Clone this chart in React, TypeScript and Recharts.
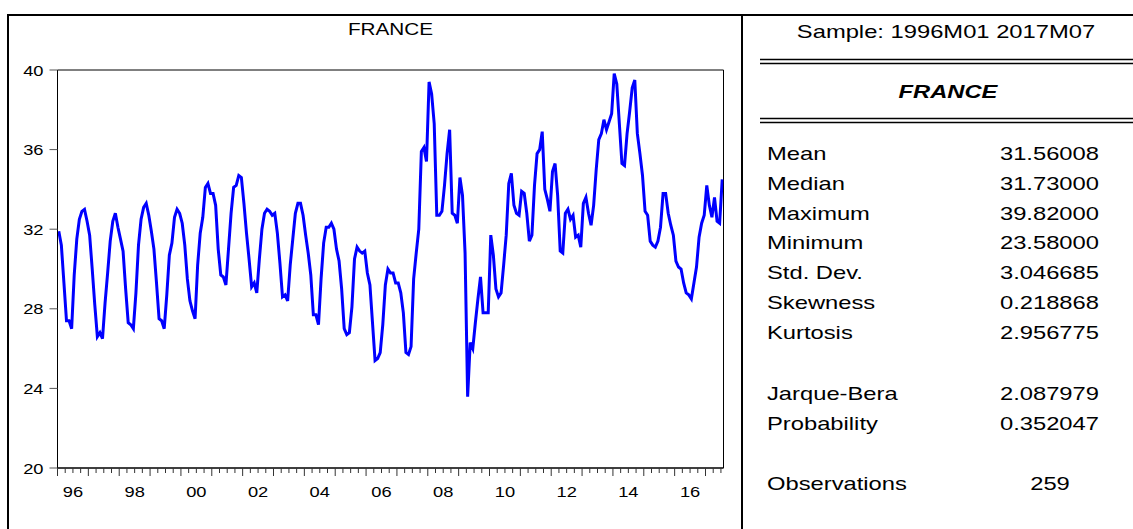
import React from 'react';
import { LineChart, Line, XAxis, YAxis, ReferenceArea } from 'recharts';

// monthly series, one array per year
const y1996 = [31.9, 31.2, 29.3, 27.4, 27.4, 27.0, 29.7, 31.5, 32.5, 32.9, 33.0, 32.4];
const y1997 = [31.7, 30.0, 28.2, 26.6, 26.8, 26.5, 28.3, 29.8, 31.4, 32.4, 32.8, 32.1];
const y1998 = [31.5, 30.9, 29.0, 27.3, 27.2, 27.0, 28.8, 31.2, 32.5, 33.1, 33.3, 32.7];
const y1999 = [31.9, 31.0, 29.3, 27.5, 27.4, 27.0, 28.7, 30.7, 31.3, 32.6, 33.0, 32.8];
const y2000 = [32.3, 31.2, 29.5, 28.4, 27.9, 27.5, 30.2, 31.8, 32.6, 34.1, 34.3, 33.8];
const y2001 = [33.8, 33.2, 31.0, 29.7, 29.6, 29.2, 31.0, 32.8, 34.1, 34.2, 34.7, 34.6];
const y2002 = [33.3, 31.8, 30.5, 29.1, 29.3, 28.8, 30.5, 32.0, 32.8, 33.0, 32.9, 32.7];
const y2003 = [32.8, 31.8, 30.3, 28.6, 28.7, 28.4, 30.2, 31.5, 32.8, 33.3, 33.3, 32.7];
const y2004 = [31.7, 30.8, 29.7, 27.7, 27.7, 27.2, 29.5, 31.3, 32.1, 32.1, 32.3, 32.0];
const y2005 = [31.0, 30.4, 29.0, 27.0, 26.7, 26.8, 28.1, 30.5, 31.1, 30.9, 30.8, 30.9];
const y2006 = [29.8, 29.2, 27.3, 25.4, 25.5, 25.8, 27.2, 29.2, 30.0, 29.8, 29.8, 29.3];
const y2007 = [29.3, 28.8, 27.8, 25.8, 25.7, 26.1, 29.5, 30.8, 32.0, 35.9, 36.1, 35.4];
const y2008 = [39.4, 38.8, 37.3, 32.7, 32.7, 32.9, 34.2, 35.8, 37.0, 32.8, 32.7, 32.3];
const y2009 = [34.6, 33.7, 30.8, 23.58, 26.3, 26.0, 27.3, 28.5, 29.6, 27.8, 27.8, 27.8];
const y2010 = [31.7, 30.7, 29.0, 28.6, 28.8, 30.2, 31.7, 34.3, 34.8, 33.2, 32.8, 32.7];
const y2011 = [33.9, 33.8, 32.8, 31.4, 31.7, 34.2, 35.8, 36.0, 36.9, 34.0, 33.5, 32.9];
const y2012 = [34.9, 35.3, 33.7, 30.9, 30.8, 32.8, 33.0, 32.5, 32.7, 31.6, 31.7, 31.1];
const y2013 = [33.3, 33.6, 32.8, 32.2, 33.2, 35.0, 36.5, 36.8, 37.5, 37.0, 37.4, 37.8];
const y2014 = [39.82, 39.3, 37.3, 35.3, 35.2, 36.8, 37.9, 39.1, 39.5, 36.8, 35.8, 34.7];
const y2015 = [32.9, 32.7, 31.4, 31.2, 31.1, 31.4, 32.1, 33.8, 33.8, 32.8, 32.2, 31.7];
const y2016 = [30.4, 30.1, 30.0, 29.3, 28.8, 28.7, 28.5, 29.3, 30.1, 31.6, 32.3, 32.7];
const y2017 = [34.2, 33.2, 32.6, 33.6, 32.4, 32.3, 34.5];

const yearLabels = ['96', '98', '00', '02', '04', '06', '08', '10', '12', '14', '16'];
const yTicks = [20, 24, 28, 32, 36, 40];

const statNames = ['Mean', 'Median', 'Maximum', 'Minimum', 'Std. Dev.', 'Skewness', 'Kurtosis'];
const statValues = ['31.56008', '31.73000', '39.82000', '23.58000', '3.046685', '0.218868', '2.956775'];
const testNames = ['Jarque-Bera', 'Probability'];
const testValues = ['2.087979', '0.352047'];
const observations = '259';
const sampleText = 'Sample: 1996M01 2017M07';
const seriesName = 'FRANCE';

const months = [
  ...y1996, ...y1997, ...y1998, ...y1999, ...y2000, ...y2001, ...y2002, ...y2003,
  ...y2004, ...y2005, ...y2006, ...y2007, ...y2008, ...y2009, ...y2010, ...y2011,
  ...y2012, ...y2013, ...y2014, ...y2015, ...y2016, ...y2017,
];
const data = months.map((v, i) => ({ t: i, france: v }));
const last = months.length - 1;

// quarter boundaries, observations sit in the middle of each month slot
const quarterTicks: number[] = [];
for (let m = 0; m <= last; m += 3) quarterTicks.push(m - 0.5);

const FONT = '"Liberation Sans", Arial, sans-serif';
const SX = 1.22; // text is drawn a bit wide
const PLOT_LEFT = 57.5;
const PLOT_RIGHT = 723.5;
const PLOT_TOP = 70;
const PLOT_BOTTOM = 468;
const CHART_W = 742;
const CHART_H = 529;

function WideText({ x, y, anchor = 'start', size, weight = 'normal', italic = false, scale = SX, children }: any) {
  return (
    <text
      transform={`translate(${x},${y}) scale(${scale},1)`}
      textAnchor={anchor}
      fontSize={size}
      fontWeight={weight}
      fontStyle={italic ? 'italic' : 'normal'}
      fontFamily={FONT}
      fill="#000"
    >
      {children}
    </text>
  );
}

const XTick = (props: any) => {
  const { x, payload } = props;
  const m = payload.value + 0.5;
  const major = m % 12 === 0;
  const labelled = (m - 6) % 24 === 0;
  return (
    <g>
      <line x1={x} x2={x} y1={PLOT_BOTTOM} y2={PLOT_BOTTOM + (major ? 8 : 5)} stroke="#333" strokeWidth={1} />
      {labelled && (
        <WideText x={x} y={PLOT_BOTTOM + 29} anchor="middle" size={15}>
          {yearLabels[(m - 6) / 24]}
        </WideText>
      )}
    </g>
  );
};

const YTick = (props: any) => {
  const { y, payload } = props;
  return (
    <g>
      <line x1={PLOT_LEFT - 8} x2={PLOT_LEFT} y1={y} y2={y} stroke="#555" strokeWidth={1} />
      <WideText x={PLOT_LEFT - 14} y={y + 5.5} anchor="end" size={15}>
        {payload.value}
      </WideText>
    </g>
  );
};

function StatsPanel() {
  const left = 767;
  const right = 1099;
  return (
    <svg width={1133} height={529} style={{ position: 'absolute', left: 0, top: 0, pointerEvents: 'none' }}>
      {/* frame */}
      <line x1={8} x2={1133} y1={15} y2={15} stroke="#000" strokeWidth={2} />
      <line x1={8} x2={8} y1={14} y2={529} stroke="#000" strokeWidth={2} />
      <line x1={742} x2={742} y1={14} y2={529} stroke="#000" strokeWidth={2} />
      <WideText x={390.5} y={35} anchor="middle" size={17}>{seriesName}</WideText>

      <WideText x={946} y={38} anchor="middle" size={19} scale={1.25}>{sampleText}</WideText>
      <line x1={760} x2={1133} y1={59.5} y2={59.5} stroke="#000" strokeWidth={1.6} />
      <line x1={760} x2={1133} y1={63.5} y2={63.5} stroke="#000" strokeWidth={1.6} />
      <WideText x={948} y={98} anchor="middle" size={19} weight="bold" italic scale={1.25}>{seriesName}</WideText>
      <line x1={760} x2={1133} y1={118.5} y2={118.5} stroke="#000" strokeWidth={1.6} />
      <line x1={760} x2={1133} y1={122.5} y2={122.5} stroke="#000" strokeWidth={1.6} />

      {statNames.map((name, i) => (
        <g key={name}>
          <WideText x={left} y={160 + i * 29.8} size={19} scale={1.25}>{name}</WideText>
          <WideText x={right} y={160 + i * 29.8} anchor="end" size={19} scale={1.25}>{statValues[i]}</WideText>
        </g>
      ))}
      {testNames.map((name, i) => (
        <g key={name}>
          <WideText x={left} y={400 + i * 29.8} size={19} scale={1.25}>{name}</WideText>
          <WideText x={right} y={400 + i * 29.8} anchor="end" size={19} scale={1.25}>{testValues[i]}</WideText>
        </g>
      ))}
      <WideText x={left} y={490} size={19} scale={1.25}>Observations</WideText>
      <WideText x={1050} y={490} anchor="middle" size={19} scale={1.25}>{observations}</WideText>
    </svg>
  );
}

export default function App() {
  const yAxisWidth = 50;
  const xAxisHeight = 30;
  return (
    <div style={{ position: 'absolute', left: 0, top: 0, width: 1133, height: 529, background: '#fff', overflow: 'hidden' }}>
      <LineChart
        width={CHART_W}
        height={CHART_H}
        data={data}
        margin={{
          top: PLOT_TOP,
          right: CHART_W - PLOT_RIGHT,
          bottom: CHART_H - PLOT_BOTTOM - xAxisHeight,
          left: PLOT_LEFT - yAxisWidth,
        }}
      >
        <XAxis
          dataKey="t"
          type="number"
          domain={[-0.5, last + 0.5]}
          ticks={quarterTicks}
          interval={0}
          height={xAxisHeight}
          tickLine={false}
          tick={<XTick />}
          axisLine={{ stroke: '#000' }}
          allowDataOverflow
        />
        <YAxis
          type="number"
          domain={[20, 40]}
          ticks={yTicks}
          interval={0}
          width={yAxisWidth}
          tickLine={false}
          tick={<YTick />}
          axisLine={{ stroke: '#000' }}
          allowDataOverflow
        />
        <ReferenceArea x1={-0.5} x2={last + 0.5} y1={20} y2={40} fill="none" stroke="#000" strokeWidth={1} ifOverflow="visible" />
        <Line
          type="linear"
          dataKey="france"
          stroke="#0000ff"
          strokeWidth={3}
          dot={false}
          isAnimationActive={false}
        />
      </LineChart>
      <StatsPanel />
    </div>
  );
}
